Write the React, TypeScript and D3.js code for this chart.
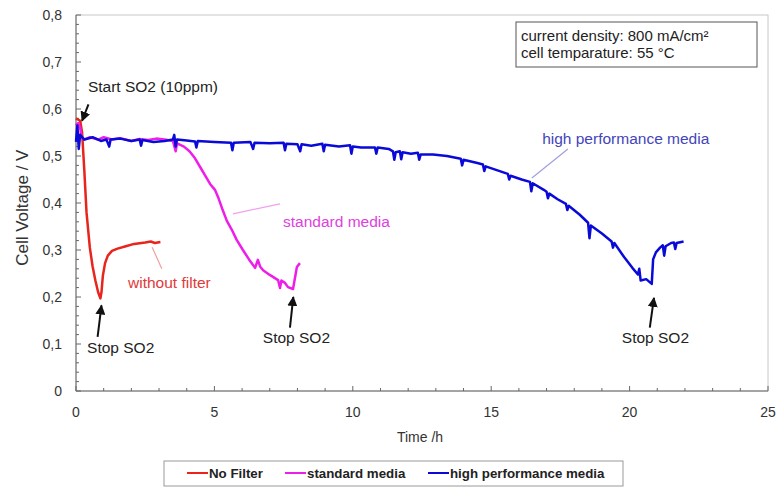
import React, { useEffect, useRef } from "react";
import * as d3 from "d3";

// [time h, cell voltage V]
const noFilter: [number, number][] = [
  [0, 0.58], [0.15, 0.575], [0.22, 0.55], [0.3, 0.47], [0.38, 0.38], [0.5, 0.305],
  [0.6, 0.265], [0.7, 0.235], [0.8, 0.21], [0.88, 0.197], [0.92, 0.21], [0.97, 0.245],
  [1.05, 0.272], [1.15, 0.288], [1.3, 0.298], [1.5, 0.303], [1.8, 0.308], [2.1, 0.313],
  [2.5, 0.316], [2.7, 0.318], [2.85, 0.315], [3.05, 0.317],
];

const standardMedia: [number, number][] = [
  [0, 0.565], [0.08, 0.57], [0.15, 0.56], [0.2, 0.54], [0.3, 0.535], [0.5, 0.54],
  [0.8, 0.535], [1.0, 0.54], [1.3, 0.535], [1.6, 0.538], [2.0, 0.532], [2.3, 0.536],
  [2.6, 0.534], [2.9, 0.537], [3.2, 0.535], [3.5, 0.532], [3.6, 0.51], [3.65, 0.527],
  [3.9, 0.52], [4.1, 0.51], [4.3, 0.495], [4.5, 0.475], [4.7, 0.455], [4.85, 0.44],
  [5.02, 0.428], [5.15, 0.41], [5.3, 0.385], [5.45, 0.362], [5.63, 0.343], [5.8, 0.322],
  [6.03, 0.3], [6.25, 0.28], [6.47, 0.262], [6.57, 0.279], [6.65, 0.265], [6.76, 0.257],
  [7.0, 0.247], [7.3, 0.236], [7.37, 0.219], [7.42, 0.235], [7.55, 0.23], [7.66, 0.221],
  [7.84, 0.217], [7.98, 0.264], [8.09, 0.272],
];

const highPerformance: [number, number][] = [
  [0, 0.53], [0.05, 0.565], [0.1, 0.515], [0.15, 0.545], [0.3, 0.535], [0.6, 0.54],
  [0.9, 0.532], [1.1, 0.535], [1.2, 0.52], [1.25, 0.535], [1.6, 0.537], [2.0, 0.532],
  [2.3, 0.535], [2.35, 0.522], [2.4, 0.534], [2.8, 0.53], [3.2, 0.532], [3.5, 0.535],
  [3.55, 0.545], [3.6, 0.52], [3.65, 0.535], [4.0, 0.533], [4.3, 0.531], [4.35, 0.518],
  [4.4, 0.532], [5.0, 0.53], [5.6, 0.528], [5.65, 0.512], [5.7, 0.528], [6.3, 0.53],
  [6.4, 0.515], [6.45, 0.528], [7.0, 0.527], [7.5, 0.528], [7.55, 0.512], [7.6, 0.526],
  [8.0, 0.525], [8.1, 0.51], [8.15, 0.525], [8.5, 0.522], [8.9, 0.526], [8.95, 0.51],
  [9.0, 0.524], [9.5, 0.52], [9.9, 0.523], [9.95, 0.505], [10.0, 0.52], [10.3, 0.518],
  [10.8, 0.518], [10.85, 0.505], [10.9, 0.518], [11.3, 0.515], [11.45, 0.51], [11.5, 0.492],
  [11.55, 0.508], [11.7, 0.51], [11.75, 0.493], [11.8, 0.508], [12.1, 0.505], [12.35, 0.507],
  [12.4, 0.492], [12.45, 0.503], [12.9, 0.503], [13.4, 0.5], [13.9, 0.494], [13.95, 0.48],
  [14.0, 0.492], [14.5, 0.485], [14.7, 0.482], [14.75, 0.468], [14.8, 0.478], [15.2, 0.47],
  [15.6, 0.462], [15.65, 0.45], [15.7, 0.458], [16.1, 0.45], [16.4, 0.445], [16.45, 0.425],
  [16.5, 0.442], [16.9, 0.428], [17.0, 0.424], [17.05, 0.41], [17.1, 0.42], [17.4, 0.408],
  [17.7, 0.398], [17.75, 0.385], [17.8, 0.394], [18.2, 0.375], [18.5, 0.358], [18.55, 0.325],
  [18.6, 0.352], [19.0, 0.335], [19.35, 0.318], [19.4, 0.305], [19.45, 0.315], [19.8, 0.285],
  [20.1, 0.262], [20.3, 0.248], [20.35, 0.26], [20.4, 0.235], [20.6, 0.238], [20.8, 0.228],
  [20.85, 0.28], [20.95, 0.295], [21.1, 0.305], [21.2, 0.31], [21.25, 0.288], [21.3, 0.308],
  [21.5, 0.315], [21.6, 0.316], [21.65, 0.302], [21.7, 0.315], [21.95, 0.318],
];

const xTicks = [0, 5, 10, 15, 20, 25];
const yTicks = [0, 0.1, 0.2, 0.3, 0.4, 0.5, 0.6, 0.7, 0.8];
const legendLabels = ["No Filter", "standard media", "high performance media"];
const colors = ["#e8241c", "#ee1ee8", "#0a0ad8"];
const infoLines = ["current density: 800 mA/cm²", "cell temparature: 55 °C"];

const FONT = "'Liberation Sans', Arial, sans-serif";

const App = () => {
  const ref = useRef<SVGSVGElement>(null);

  useEffect(() => {
    const width = 781;
    const height = 487;
    const margin = { top: 15, right: 13, bottom: 96, left: 76 };
    const svg = d3.select(ref.current);
    svg.selectAll("*").remove();
    svg.attr("width", width).attr("height", height);

    const x = d3.scaleLinear().domain([0, 25]).range([margin.left, width - margin.right]);
    const y = d3.scaleLinear().domain([0, 0.8]).range([height - margin.bottom, margin.top]);

    const defs = svg.append("defs");
    defs
      .append("marker")
      .attr("id", "arrow")
      .attr("viewBox", "0 0 10 10")
      .attr("refX", 9)
      .attr("refY", 5)
      .attr("markerWidth", 5)
      .attr("markerHeight", 5)
      .attr("orient", "auto")
      .append("path")
      .attr("d", "M0,0L10,5L0,10z")
      .attr("fill", "#111");

    // frame
    svg
      .append("rect")
      .attr("x", x(0))
      .attr("y", y(0.8))
      .attr("width", x(25) - x(0))
      .attr("height", y(0) - y(0.8))
      .attr("fill", "none")
      .attr("stroke", "#c8c8c8");

    // y axis
    const yAxis = svg.append("g");
    yAxis
      .append("line")
      .attr("x1", x(0)).attr("x2", x(0))
      .attr("y1", y(0)).attr("y2", y(0.8))
      .attr("stroke", "#666");
    yAxis
      .selectAll("line.minor")
      .data(d3.range(0, 41).map((i) => i * 0.02))
      .enter()
      .append("line")
      .attr("x1", x(0))
      .attr("x2", (d, i) => x(0) + (i % 5 === 0 ? 5 : 3))
      .attr("y1", (d) => y(d))
      .attr("y2", (d) => y(d))
      .attr("stroke", "#666");
    yAxis
      .selectAll("text")
      .data(yTicks)
      .enter()
      .append("text")
      .attr("x", 62)
      .attr("y", (d) => y(d) + 5)
      .attr("text-anchor", "end")
      .style("font-family", FONT)
      .style("font-size", "14px")
      .attr("fill", "#333")
      .text((d) => (d === 0 ? "0" : d3.format(".1f")(d).replace(".", ",")));

    // x axis
    const xAxis = svg.append("g");
    xAxis
      .append("line")
      .attr("x1", x(0)).attr("x2", x(25))
      .attr("y1", y(0)).attr("y2", y(0))
      .attr("stroke", "#666");
    xAxis
      .selectAll("line.tick")
      .data(d3.range(0, 26))
      .enter()
      .append("line")
      .attr("x1", (d) => x(d))
      .attr("x2", (d) => x(d))
      .attr("y1", y(0))
      .attr("y2", (d) => y(0) - (d % 5 === 0 ? 5 : 3))
      .attr("stroke", "#666");
    xAxis
      .selectAll("text")
      .data(xTicks)
      .enter()
      .append("text")
      .attr("x", (d) => x(d))
      .attr("y", 417)
      .attr("text-anchor", "middle")
      .style("font-family", FONT)
      .style("font-size", "14px")
      .attr("fill", "#333")
      .text((d) => d);

    svg
      .append("text")
      .attr("x", 420)
      .attr("y", 442)
      .attr("text-anchor", "middle")
      .style("font-family", FONT)
      .style("font-size", "14px")
      .attr("fill", "#333")
      .text("Time /h");

    svg
      .append("text")
      .attr("transform", `translate(28,${y(0.39)}) rotate(-90)`)
      .attr("text-anchor", "middle")
      .style("font-family", FONT)
      .style("font-size", "17px")
      .attr("fill", "#333")
      .text("Cell Voltage / V");

    // series
    const line = d3
      .line<[number, number]>()
      .x((d) => x(d[0]))
      .y((d) => y(d[1]));
    const series = [noFilter, standardMedia, highPerformance];
    series.forEach((s, i) => {
      svg
        .append("path")
        .datum(s)
        .attr("d", line)
        .attr("fill", "none")
        .attr("stroke", colors[i])
        .attr("stroke-width", 2.5)
        .attr("stroke-linejoin", "round");
    });

    // annotations
    const note = (
      tx: number, tv: number, text: string, color: string,
      lx1: number, lv1: number, lx2: number, lv2: number, lineColor: string
    ) => {
      svg
        .append("line")
        .attr("x1", x(lx1)).attr("y1", y(lv1))
        .attr("x2", x(lx2)).attr("y2", y(lv2))
        .attr("stroke", lineColor)
        .attr("stroke-width", 1.2);
      svg
        .append("text")
        .attr("x", x(tx))
        .attr("y", y(tv))
        .style("font-family", FONT)
        .style("font-size", "15.5px")
        .attr("fill", color)
        .text(text);
    };
    note(1.88, 0.219, "without filter", "#e03a3a", 2.75, 0.306, 3.1, 0.26, "#f0a0a0");
    note(7.48, 0.349, "standard media", "#e040e0", 5.67, 0.377, 7.37, 0.398, "#f0a0f0");
    note(16.84, 0.526, "high performance media", "#4444bb", 17.77, 0.515, 16.47, 0.453, "#a0a0e0");

    const arrow = (t1: number, v1: number, t2: number, v2: number) => {
      svg
        .append("line")
        .attr("x1", x(t1)).attr("y1", y(v1))
        .attr("x2", x(t2)).attr("y2", y(v2))
        .attr("stroke", "#111")
        .attr("stroke-width", 2)
        .attr("marker-end", "url(#arrow)");
    };
    const label = (t: number, v: number, text: string) => {
      svg
        .append("text")
        .attr("x", x(t))
        .attr("y", y(v))
        .style("font-family", FONT)
        .style("font-size", "15.5px")
        .attr("fill", "#222")
        .text(text);
    };
    arrow(0.45, 0.61, 0.22, 0.575);
    label(0.43, 0.636, "Start SO2 (10ppm)");
    arrow(0.78, 0.115, 0.92, 0.182);
    label(0.4, 0.081, "Stop SO2");
    arrow(7.73, 0.135, 7.85, 0.2);
    label(6.75, 0.102, "Stop SO2");
    arrow(20.73, 0.135, 20.88, 0.198);
    label(19.72, 0.102, "Stop SO2");

    // info box
    const info = svg.append("g");
    info
      .append("rect")
      .attr("x", 516)
      .attr("y", 22)
      .attr("width", 241)
      .attr("height", 45)
      .attr("fill", "#fff")
      .attr("stroke", "#555");
    info
      .selectAll("text")
      .data(infoLines)
      .enter()
      .append("text")
      .attr("x", 521)
      .attr("y", (d, i) => 41 + i * 17)
      .style("font-family", FONT)
      .style("font-size", "15px")
      .attr("fill", "#222")
      .text((d) => d);

    // legend
    const legend = svg.append("g");
    legend
      .append("rect")
      .attr("x", 164)
      .attr("y", 461)
      .attr("width", 459)
      .attr("height", 25)
      .attr("fill", "#fff")
      .attr("stroke", "#999");
    const legendX = [187, 285, 428];
    legendLabels.forEach((name, i) => {
      legend
        .append("line")
        .attr("x1", legendX[i])
        .attr("x2", legendX[i] + 21)
        .attr("y1", 473)
        .attr("y2", 473)
        .attr("stroke", colors[i])
        .attr("stroke-width", 2);
      legend
        .append("text")
        .attr("x", legendX[i] + 22)
        .attr("y", 478)
        .style("font-family", FONT)
        .style("font-size", "13.3px")
        .style("font-weight", "bold")
        .attr("fill", "#222")
        .text(name);
    });
  }, []);

  return (
    <div>
      <svg ref={ref} style={{ position: "absolute", left: 0, top: 0 }}></svg>
    </div>
  );
};

export default App;
